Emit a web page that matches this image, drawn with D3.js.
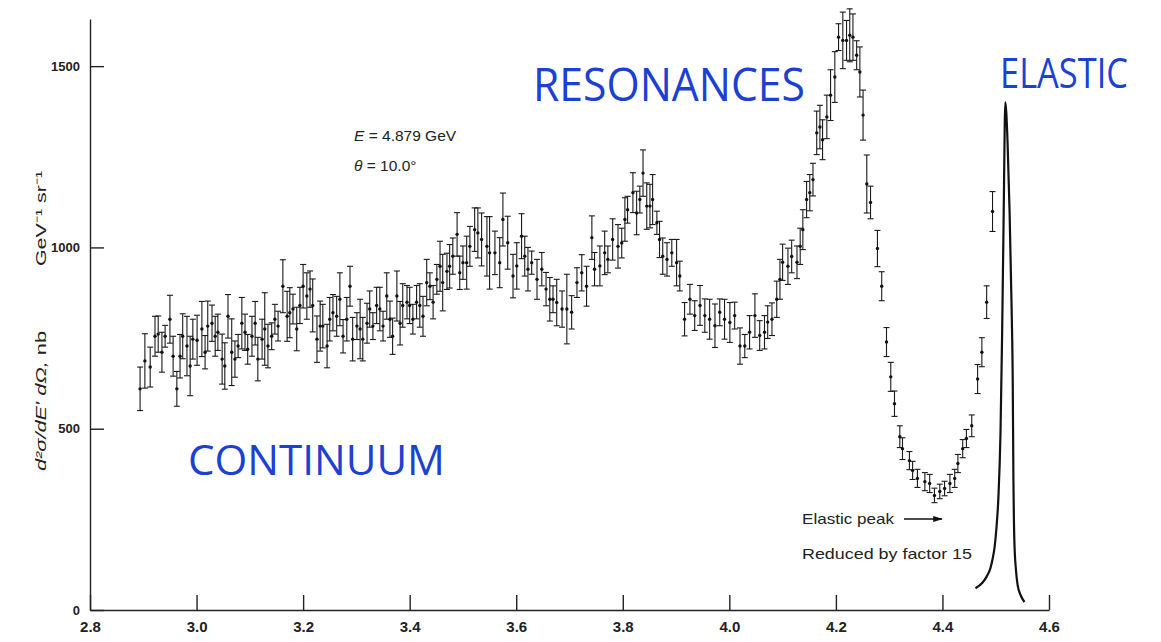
<!DOCTYPE html>
<html>
<head>
<meta charset="utf-8">
<script src="https://cdn.jsdelivr.net/npm/d3@7"></script>
<style>
  html, body { margin: 0; padding: 0; background: #fff; }
  svg { display: block; }
  .axis text { font-family: "Liberation Sans", Arial, sans-serif; font-weight: bold; fill: #222; }
  .axis path, .axis line { stroke: #222; stroke-width: 1.4; }
  .note { font-family: "Liberation Sans", Arial, sans-serif; fill: #222; }
  .hand { font-family: "Open Sans", sans-serif; fill: #1c3fd4; }
</style>
</head>
<body>
<div id="chart"></div>
<script>
// scattered electron energy E' (GeV)
const energy = [
  2.894, 2.903, 2.913, 2.922, 2.928, 2.935, 2.941, 2.950, 2.956, 2.963, 2.969, 2.974, 2.982, 2.988, 2.993,
  3.001, 3.010, 3.016, 3.021, 3.029, 3.035, 3.040, 3.048, 3.053, 3.059, 3.066, 3.072, 3.078, 3.085, 3.091,
  3.096, 3.104, 3.110, 3.115, 3.123, 3.128, 3.134, 3.141, 3.147, 3.153, 3.162, 3.170, 3.175, 3.181, 3.188,
  3.194, 3.200, 3.207, 3.213, 3.218, 3.226, 3.232, 3.237, 3.245, 3.250, 3.256, 3.263, 3.269, 3.275, 3.282,
  3.288, 3.293, 3.301, 3.307, 3.312, 3.320, 3.325, 3.331, 3.338, 3.344, 3.350, 3.357, 3.363, 3.368, 3.376,
  3.382, 3.387, 3.395, 3.400, 3.406, 3.413, 3.419, 3.425, 3.432, 3.438, 3.444, 3.451, 3.457, 3.462, 3.470,
  3.475, 3.481, 3.489, 3.494, 3.500, 3.507, 3.513, 3.522, 3.528, 3.535, 3.545, 3.550, 3.560, 3.569, 3.575,
  3.584, 3.594, 3.601, 3.610, 3.616, 3.622, 3.629, 3.639, 3.648, 3.656, 3.663, 3.669, 3.676, 3.686, 3.695,
  3.704, 3.714, 3.723, 3.732, 3.742, 3.747, 3.757, 3.766, 3.772, 3.781, 3.791, 3.798, 3.804, 3.809, 3.819,
  3.826, 3.832, 3.838, 3.845, 3.851, 3.856, 3.864, 3.869, 3.875, 3.883, 3.892, 3.901, 3.907, 3.916, 3.926,
  3.935, 3.945, 3.954, 3.963, 3.973, 3.982, 3.991, 4.001, 4.010, 4.020, 4.029, 4.038, 4.048, 4.057, 4.066,
  4.072, 4.080, 4.089, 4.095, 4.100, 4.110, 4.117, 4.127, 4.133, 4.138, 4.145, 4.151, 4.157, 4.164, 4.170,
  4.175, 4.183, 4.190, 4.198, 4.205, 4.213, 4.220, 4.226, 4.232, 4.239, 4.245, 4.251, 4.258, 4.265, 4.278,
  4.286, 4.295, 4.303, 4.310, 4.320, 4.325, 4.338, 4.344, 4.353, 4.367, 4.376, 4.385, 4.395, 4.404, 4.414,
  4.423, 4.429, 4.438, 4.445, 4.455, 4.466, 4.474, 4.483, 4.494
];

// d2sigma/dE' dOmega (nb GeV^-1 sr^-1)
const xsec = [
  610, 687, 670, 755, 761, 711, 755, 802, 700, 610, 700, 755, 728, 673, 747,
  744, 775, 711, 783, 791, 755, 766, 692, 673, 810, 711, 692, 728, 791, 766,
  719, 755, 791, 692, 747, 775, 728, 755, 802, 783, 893, 810, 820, 830, 775,
  840, 893, 866, 885, 840, 747, 783, 783, 728, 802, 820, 810, 857, 755, 802,
  893, 747, 783, 775, 747, 791, 830, 783, 840, 830, 783, 866, 802, 755, 866,
  791, 840, 849, 840, 802, 849, 840, 810, 903, 893, 849, 912, 948, 903, 934,
  948, 976, 1036, 930, 958, 958, 1003, 1049, 1040, 1022, 1003, 985, 985, 958, 1077,
  1013, 921, 949, 1031, 976, 940, 958, 912, 940, 885, 857, 857, 848, 830, 830,
  821, 903, 930, 893, 1027, 940, 949, 985, 967, 1022, 1003, 1012, 1077, 1104, 1151,
  1095, 1132, 1205, 1114, 1114, 1132, 1068, 1022, 976, 967, 985, 958, 921, 802, 857,
  812, 840, 812, 802, 784, 821, 802, 793, 812, 728, 728, 766, 812, 757, 766,
  794, 802, 857, 912, 959, 948, 975, 959, 1003, 1049, 1132, 1151, 1187, 1316, 1332,
  1297, 1360, 1420, 1470, 1580, 1571, 1571, 1585, 1580, 1530, 1484, 1365, 1175, 1124, 997,
  893, 739, 643, 569, 478, 445, 412, 385, 363, 354, 349, 316, 327, 335, 349,
  363, 404, 445, 473, 508, 637, 711, 849, 1099
];

// half length of each error bar, same units
const errs = [
  60, 75, 55, 55, 50, 55, 30, 66, 55, 48, 60, 62, 82, 82, 55,
  69, 76, 46, 69, 50, 55, 50, 69, 64, 60, 92, 50, 32, 71, 50,
  41, 55, 60, 60, 55, 100, 60, 37, 41, 41, 73, 69, 69, 41, 60,
  50, 60, 64, 50, 73, 64, 69, 60, 60, 60, 50, 55, 73, 46, 60,
  55, 60, 37, 82, 60, 55, 50, 37, 50, 60, 41, 64, 50, 50, 69,
  60, 60, 46, 50, 41, 46, 60, 55, 64, 37, 46, 41, 69, 78, 50,
  60, 50, 60, 46, 46, 73, 55, 60, 69, 73, 82, 100, 60, 69, 73,
  73, 60, 64, 62, 55, 60, 32, 55, 46, 46, 60, 37, 64, 50, 96,
  46, 41, 50, 55, 60, 46, 55, 60, 37, 57, 60, 41, 60, 37, 55,
  60, 37, 64, 64, 60, 69, 32, 50, 50, 46, 37, 64, 41, 46, 41,
  41, 55, 46, 55, 60, 37, 55, 55, 37, 50, 32, 46, 60, 41, 46,
  45, 45, 50, 55, 50, 50, 45, 45, 50, 55, 50, 50, 45, 60, 60,
  55, 60, 70, 70, 37, 78, 55, 73, 64, 40, 69, 69, 80, 45, 50,
  40, 40, 40, 35, 30, 30, 25, 25, 25, 25, 25, 20, 20, 20, 25,
  25, 25, 25, 25, 30, 40, 40, 45, 55
];

// elastic peak, reduced by factor 15 (traced outline)
const elasticE = [4.462, 4.475, 4.483, 4.490, 4.494, 4.498, 4.501, 4.505, 4.509, 4.512, 4.515, 4.518,
                  4.522, 4.526, 4.530, 4.532, 4.533, 4.535, 4.538, 4.541, 4.547, 4.554];
const elasticV = [60, 75, 92, 115, 140, 175, 220, 310, 490, 760, 1100, 1400,
                  1300, 1100, 820, 620, 400, 190, 110, 70, 40, 22];

const xTicks = [2.8, 3.0, 3.2, 3.4, 3.6, 3.8, 4.0, 4.2, 4.4, 4.6];
const yTicks = [0, 500, 1000, 1500];

const width = 1161, height = 642;

const svg = d3.select("#chart").append("svg")
    .attr("width", width)
    .attr("height", height);

const x = d3.scaleLinear().domain([2.8, 4.6]).range([90, 1049]);
const y = d3.scaleLinear().domain([0, 1630]).range([610, 19]);

// axes (ticks point inward)
svg.append("g")
    .attr("class", "axis")
    .attr("transform", `translate(0,${y(0)})`)
    .call(d3.axisBottom(x).tickValues(xTicks).tickSize(-15).tickSizeOuter(0)
        .tickPadding(11).tickFormat(d3.format(".1f")))
    .call(g => g.selectAll("text").attr("font-size", 15));

svg.append("g")
    .attr("class", "axis")
    .attr("transform", `translate(${x(2.8)},0)`)
    .call(d3.axisLeft(y).tickValues(yTicks).tickSize(-14).tickSizeOuter(0)
        .tickPadding(10).tickFormat(d3.format("d")))
    .call(g => g.selectAll("text").attr("font-size", 13));

// y axis title
svg.append("text")
    .attr("class", "note")
    .attr("transform", "translate(46,471) rotate(-90)")
    .attr("font-size", 15)
    .attr("textLength", 140).attr("lengthAdjust", "spacingAndGlyphs")
    .attr("font-style", "italic")
    .text("d²σ/dE′ dΩ,")
    .append("tspan").attr("font-style", "normal").text(" nb");

svg.append("text")
    .attr("class", "note")
    .attr("transform", "translate(46,266) rotate(-90)")
    .attr("font-size", 15)
    .attr("textLength", 95).attr("lengthAdjust", "spacingAndGlyphs")
    .text("GeV⁻¹ sr⁻¹");

// data with error bars
const pts = energy.map((e, i) => ({ e: e, v: xsec[i], s: errs[i] }));

const bars = svg.append("g").attr("stroke", "#1a1a1a").attr("stroke-width", 1.1);

bars.selectAll("line.bar")
    .data(pts)
    .enter().append("line")
    .attr("class", "bar")
    .attr("x1", d => x(d.e)).attr("x2", d => x(d.e))
    .attr("y1", d => y(d.v - d.s)).attr("y2", d => y(d.v + d.s));

bars.selectAll("line.top")
    .data(pts)
    .enter().append("line")
    .attr("class", "top")
    .attr("x1", d => x(d.e) - 3).attr("x2", d => x(d.e) + 3)
    .attr("y1", d => y(d.v + d.s)).attr("y2", d => y(d.v + d.s));

bars.selectAll("line.bot")
    .data(pts)
    .enter().append("line")
    .attr("class", "bot")
    .attr("x1", d => x(d.e) - 3).attr("x2", d => x(d.e) + 3)
    .attr("y1", d => y(d.v - d.s)).attr("y2", d => y(d.v - d.s));

svg.append("g")
    .selectAll("circle")
    .data(pts)
    .enter().append("circle")
    .attr("cx", d => x(d.e))
    .attr("cy", d => y(d.v))
    .attr("r", 1.7)
    .attr("fill", "#111");

// elastic peak curve
const line = d3.line()
    .x(d => x(d[0]))
    .y(d => y(d[1]))
    .curve(d3.curveMonotoneX);

svg.append("path")
    .datum(elasticE.map((e, i) => [e, elasticV[i]]))
    .attr("d", line)
    .attr("fill", "none")
    .attr("stroke", "#111")
    .attr("stroke-width", 2.2);

// printed annotations
const ann = svg.append("g").attr("class", "note");

const t1 = ann.append("text").attr("x", 354).attr("y", 141).attr("font-size", 15.5);
t1.append("tspan").attr("font-style", "italic").text("E");
t1.append("tspan").text(" = 4.879 GeV");

const t2 = ann.append("text").attr("x", 354).attr("y", 171).attr("font-size", 15.5);
t2.append("tspan").attr("font-style", "italic").text("θ");
t2.append("tspan").text(" = 10.0°");

ann.append("text").attr("x", 802).attr("y", 524).attr("font-size", 15)
    .attr("textLength", 92).attr("lengthAdjust", "spacingAndGlyphs")
    .text("Elastic peak");
ann.append("text").attr("x", 802).attr("y", 559).attr("font-size", 15)
    .attr("textLength", 170).attr("lengthAdjust", "spacingAndGlyphs")
    .text("Reduced by factor 15");

svg.append("defs").append("marker")
    .attr("id", "arrow")
    .attr("viewBox", "0 0 10 10")
    .attr("refX", 9).attr("refY", 5)
    .attr("markerWidth", 7).attr("markerHeight", 7)
    .attr("orient", "auto")
    .append("path")
    .attr("d", "M0,2 L10,5 L0,8 Z")
    .attr("fill", "#111");

svg.append("line")
    .attr("x1", 904).attr("y1", 519)
    .attr("x2", 942).attr("y2", 519)
    .attr("stroke", "#111").attr("stroke-width", 1.4)
    .attr("marker-end", "url(#arrow)");

// handwritten region labels
const hand = svg.append("g").attr("class", "hand");

hand.append("text")
    .attr("x", 188).attr("y", 475)
    .attr("font-size", 42)
    .attr("textLength", 257).attr("lengthAdjust", "spacingAndGlyphs")
    .text("CONTINUUM");

hand.append("text")
    .attr("x", 533).attr("y", 101)
    .attr("font-size", 46)
    .attr("textLength", 272).attr("lengthAdjust", "spacingAndGlyphs")
    .text("RESONANCES");

hand.append("text")
    .attr("x", 1128).attr("y", 88)
    .attr("text-anchor", "end")
    .attr("font-size", 42)
    .attr("textLength", 128).attr("lengthAdjust", "spacingAndGlyphs")
    .text("ELASTIC");
</script>
</body>
</html>
